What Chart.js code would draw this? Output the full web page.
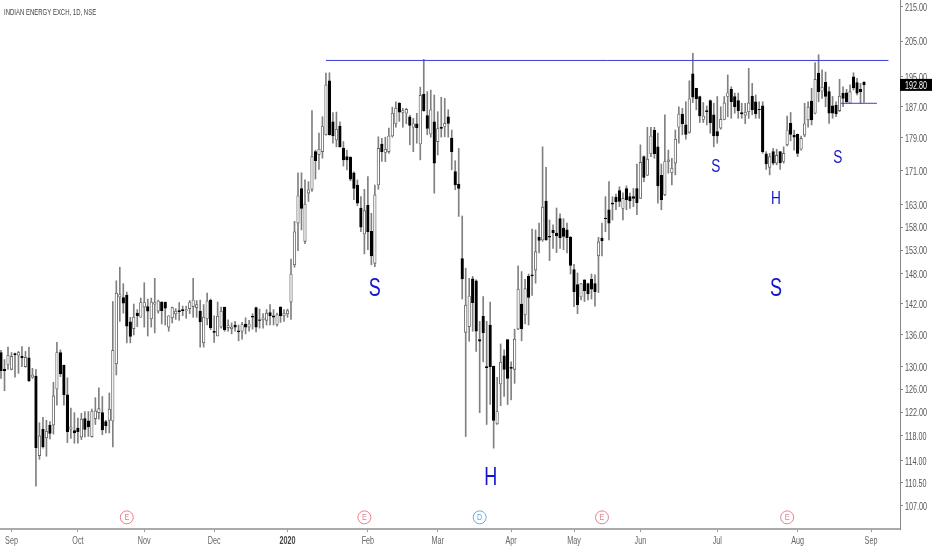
<!DOCTYPE html>
<html>
<head>
<meta charset="utf-8">
<style>
html,body{margin:0;padding:0;background:#fff;}
canvas{display:block;filter:blur(0.3px);}
</style>
<script src="https://cdn.jsdelivr.net/npm/chart.js@4"></script>
</head>
<body>
<canvas id="chart" width="932" height="550"></canvas>
<script>
const title="INDIAN ENERGY EXCH, 1D, NSE";
const opens=[
132.6,129.5,130.4,129.5,132.4,132.1,131.9,130.0,131.6,128.1,
128.3,114.8,119.1,117.7,119.8,119.8,126.0,132.6,130.3,125.0,
119.1,118.9,119.3,117.8,120.9,120.5,117.9,120.9,121.9,121.9,
120.4,120.6,120.5,130.5,143.3,143.2,143.7,138.4,137.1,140.1,
139.3,141.3,141.4,139.0,141.9,140.5,142.3,142.3,137.4,139.2,
140.0,140.6,140.8,140.6,141.0,141.4,141.2,140.5,134.4,139.0,
142.7,136.6,135.7,137.4,141.3,137.3,137.1,137.8,136.7,136.6,
138.0,137.4,139.5,141.2,138.8,138.8,138.7,140.2,139.6,137.9,
141.3,139.6,140.0,142.3,149.9,158.9,166.8,154.9,165.7,166.6,
175.6,174.9,175.6,179.8,193.9,183.1,178.5,182.0,176.5,174.4,
174.2,170.5,167.6,162.3,156.5,162.9,157.1,150.2,167.6,177.5,
175.4,175.6,179.5,182.6,187.9,185.5,185.3,184.4,181.7,182.6,
177.5,190.3,184.7,180.0,183.1,178.1,181.7,181.9,184.4,179.0,
170.8,167.8,151.2,136.4,137.5,147.0,146.6,135.0,139.5,130.0,
137.8,130.1,120.0,126.9,132.0,135.0,129.9,129.5,137.0,141.9,
139.8,147.5,147.8,148.8,155.8,155.2,163.9,156.0,157.3,156.7,
159.9,157.8,157.4,155.8,148.9,145.8,143.3,146.8,146.0,146.9,
146.0,151.8,155.6,160.0,161.9,163.4,164.8,166.3,162.2,166.8,
164.9,164.9,166.8,164.5,174.4,169.9,175.1,180.9,176.8,169.9,
165.3,173.2,170.5,172.8,181.7,185.1,182.3,180.4,195.8,191.9,
189.7,183.7,186.0,188.6,184.9,180.6,181.5,183.7,189.7,191.6,
189.7,188.6,185.5,184.8,185.7,189.8,188.3,186.3,187.2,175.1,
171.8,175.6,172.8,175.6,173.2,177.3,182.7,179.7,179.9,176.2,
179.7,183.6,188.5,185.3,196.0,191.1,193.5,191.0,187.2,187.4,
186.0,190.6,190.7,187.9,195.0,193.4,191.6,193.5];
const closes=[
129.3,129.3,132.1,131.9,132.2,132.6,131.6,131.7,127.5,128.5,
116.1,118.0,116.2,118.8,118.4,124.8,132.6,128.7,125.0,118.7,
119.5,118.5,118.7,120.8,119.1,119.5,122.1,122.2,122.6,119.0,
119.7,122.5,133.0,144.1,143.8,142.1,137.6,135.6,139.3,139.6,
142.2,142.2,140.5,142.3,142.2,142.5,140.6,141.1,139.6,141.2,
140.5,140.4,140.6,140.8,142.2,142.7,141.8,138.4,139.3,142.5,
137.3,136.4,139.5,140.5,136.9,137.7,137.4,137.4,136.5,137.9,
137.4,138.0,139.3,137.4,138.7,139.2,140.1,139.6,139.3,139.8,
139.6,140.1,140.6,148.0,157.0,165.1,162.2,163.2,166.5,174.4,
173.4,176.2,181.9,192.8,179.8,179.5,181.2,176.8,173.6,173.6,
169.0,166.8,163.4,158.0,161.7,157.0,151.8,165.3,176.4,175.6,
176.2,179.5,185.3,186.6,185.6,186.0,186.3,182.2,182.6,181.6,
190.0,186.0,181.4,186.2,172.8,181.4,181.4,182.7,182.7,175.6,
167.6,166.8,147.0,141.7,143.5,142.2,136.6,134.7,136.3,129.8,
130.0,120.6,122.1,130.8,129.5,127.9,129.7,135.1,144.9,137.1,
145.0,143.2,147.6,152.7,155.1,162.5,155.2,155.8,156.8,156.1,
155.7,156.0,155.7,149.8,144.4,141.8,146.0,144.6,144.0,144.9,
144.4,154.8,155.0,159.9,158.9,163.2,163.7,163.8,164.5,164.2,
164.0,164.5,163.5,173.0,169.4,173.8,179.5,175.1,167.4,164.2,
173.2,173.6,171.6,178.7,185.1,182.6,179.9,189.1,189.5,189.1,
184.6,184.6,185.7,182.9,179.5,179.5,183.7,188.0,190.7,188.3,
187.0,186.0,185.1,185.6,188.0,186.2,185.1,186.2,175.6,172.6,
174.4,172.8,174.7,172.9,175.2,181.0,179.9,179.2,175.2,178.9,
182.6,186.9,183.6,194.3,191.0,192.2,189.7,185.3,185.3,185.1,
189.8,189.2,188.3,191.0,192.0,190.6,191.0,192.8];
const highs=[
133.0,131.3,133.6,132.6,132.5,132.8,133.7,132.8,133.6,129.7,
129.5,120.2,121.1,120.6,120.4,127.2,134.5,133.1,130.3,128.0,
122.7,121.9,121.0,121.8,122.1,122.1,122.5,124.5,126.2,124.7,
120.6,125.3,142.4,146.6,149.4,146.0,144.3,139.3,141.9,140.8,
143.1,146.2,142.9,143.1,147.1,142.7,142.4,142.3,139.6,141.3,
141.0,142.2,141.5,141.5,142.6,147.1,142.6,142.7,141.8,144.1,
142.9,139.6,142.3,141.3,141.3,138.8,138.2,138.5,137.8,138.3,
139.2,138.7,140.0,141.3,140.9,140.0,140.8,141.8,140.8,140.1,
141.4,140.8,140.9,151.1,159.3,170.5,170.5,168.8,168.4,186.0,
176.0,180.2,184.4,196.0,196.1,185.5,185.6,183.1,178.1,176.0,
174.4,170.7,168.8,164.9,166.6,169.6,161.1,167.6,179.3,178.9,
179.2,181.5,186.9,188.3,188.1,186.6,186.6,184.8,184.0,185.3,
192.2,199.8,191.0,191.4,190.1,185.7,189.5,189.2,186.2,181.0,
173.4,176.4,160.5,149.2,147.1,147.5,146.8,138.5,143.4,138.5,
142.3,130.1,128.1,134.2,133.1,135.0,130.9,137.0,149.7,148.5,
146.9,148.0,157.6,157.4,158.9,176.8,171.8,159.6,158.5,162.3,
161.0,159.9,158.9,156.0,150.0,148.2,146.0,146.8,146.1,148.0,
147.8,155.8,158.9,164.9,168.4,164.9,165.5,167.2,165.8,167.4,
165.7,166.8,172.6,177.3,174.6,181.7,181.7,181.7,180.2,172.6,
184.9,176.0,174.0,181.0,187.0,186.6,188.3,193.9,201.5,191.9,
189.8,188.1,187.2,188.8,187.9,189.7,187.0,189.7,195.5,192.3,
190.6,190.6,187.9,187.9,197.3,193.2,190.1,188.3,188.3,175.6,
175.2,176.4,176.2,175.6,176.8,184.6,185.5,181.0,180.0,179.5,
187.9,188.3,191.9,198.9,201.1,196.9,196.3,192.3,189.7,188.3,
194.3,192.3,191.6,192.8,196.1,194.6,193.2,193.7];
const lows=[
127.9,125.7,129.5,129.4,128.1,128.8,130.0,129.9,127.3,127.9,
110.0,114.2,116.0,114.7,117.5,118.3,123.2,128.2,123.2,116.9,
117.6,116.8,116.8,117.4,117.8,117.9,117.8,119.9,120.8,118.2,
118.5,118.5,116.2,128.5,138.5,140.1,134.4,134.4,135.9,137.5,
139.3,137.4,135.7,137.4,136.3,140.1,138.0,137.8,136.6,138.2,
138.9,138.7,139.6,139.1,140.0,139.3,139.3,133.6,133.6,137.8,
136.9,134.5,135.7,137.2,136.6,136.6,136.1,136.6,134.8,135.1,
136.1,136.6,137.0,136.5,137.2,137.2,137.8,137.8,137.8,137.6,
138.3,138.5,139.3,138.9,149.4,152.9,157.4,154.4,163.8,166.1,
169.0,171.3,174.0,179.7,179.7,177.7,176.8,176.7,172.1,171.2,
168.6,164.2,162.8,157.0,152.2,153.1,149.9,149.5,166.6,173.2,
173.2,175.2,179.2,181.7,183.2,181.7,182.6,177.3,175.6,177.7,
173.6,185.8,179.8,179.2,165.7,174.8,179.2,179.3,179.2,171.2,
166.5,160.4,142.9,117.9,134.7,136.6,132.8,121.9,130.9,119.9,
123.3,116.0,119.9,123.1,124.7,123.3,124.1,127.0,136.9,134.8,
138.0,137.8,143.6,146.1,152.4,154.9,155.1,150.8,153.4,152.5,
153.4,153.1,152.4,148.0,141.4,140.0,142.7,142.4,142.7,142.9,
141.5,144.2,151.8,157.0,155.2,159.6,161.9,162.6,159.6,161.9,
162.2,162.6,160.8,164.5,168.4,169.8,174.4,174.0,163.4,161.9,
165.1,170.4,167.6,170.0,177.7,179.8,178.7,180.2,188.1,186.2,
182.9,182.9,182.3,180.2,176.8,177.7,181.2,183.6,184.4,184.0,
185.3,184.0,184.0,182.6,184.0,184.9,184.0,184.0,175.2,171.3,
170.0,172.4,172.4,171.3,172.8,177.0,178.3,176.0,174.4,176.0,
179.3,181.7,182.3,185.1,188.3,189.2,187.0,182.7,184.0,184.4,
185.7,187.0,187.9,187.9,191.4,190.1,187.9,188.1];

const priceTicks=[215,205,195,187,179,171,163,158,153,148,142,136,130,126,122,118,114,110.5,107];
const monthTicks=[3,22,41,61,82,105,125,146,164,183,205,228,249];
const monthLabels=["Sep","Oct","Nov","Dec","2020","Feb","Mar","Apr","May","Jun","Jul","Aug","Sep"];
// hand drawn lines on the chart
const resistanceX=[93,254];
const resistanceY=[199.5,199.5];
const supportX=[240.4,250.7];
const supportY=[187.9,187.9];
// head and shoulders letters
const noteLabels=["S","H","S","S","H","S"];
const noteX=[107,140.2,221.8,204.6,221.8,239.5];
const noteY=[144.9,111.3,144.9,171.9,164.5,174];
const noteBig=[true,true,true,false,false,false];
// earnings and dividend markers
const eventLabels=["E","E","D","E","E"];
const eventX=[36,104,137,172,225];
const eventY=[105.3,105.3,105.3,105.3,105.3];

const face='"Liberation Sans",sans-serif';
const blue="#1414c8";
const lineBlue="#3c3cd8";
const evColor=l=>l==="D"?"#5aaee6":"#e5808f";

const wicks=highs.map((h,i)=>({x:i,y:[lows[i],h]}));
const bodies=opens.map((o,i)=>({x:i,y:[Math.min(o,closes[i]),Math.max(o,closes[i])]}));
const bodyFill=opens.map((o,i)=>closes[i]<o?"#000":"#fff");
const bodyEdge=opens.map((o,i)=>closes[i]<o?"#000":"#666");

// the screenshot is squeezed sideways, so all its text runs narrow
function squeezed(c,text,x,y,font,color,align,squeeze){
    c.save();
    c.translate(x,y);
    c.scale(squeeze,1);
    c.font=font;
    c.fillStyle=color;
    c.textAlign=align;
    c.textBaseline="middle";
    c.fillText(text,0,0);
    c.restore();
}

const labelsPlugin={
    id:"labels",
    afterDraw(chart){
        const c=chart.ctx;
        const sx=chart.scales.x, sy=chart.scales.y;
        sy.ticks.forEach(t=>{
            squeezed(c,t.label,sy.left+5,sy.getPixelForValue(t.value)+1.5,"10px "+face,"#555","left",0.72);
        });
        sx.ticks.forEach(t=>{
            const bold=t.label==="2020";
            squeezed(c,t.label,sx.getPixelForValue(t.value),541.5,(bold?"bold ":"")+"10px "+face,bold?"#444":"#666","center",0.72);
        });
        squeezed(c,title,4,12.5,"9.5px "+face,"#444","left",0.63);
        noteLabels.forEach((l,i)=>{
            squeezed(c,l,sx.getPixelForValue(noteX[i]),sy.getPixelForValue(noteY[i]),(noteBig[i]?"25px ":"19px ")+face,blue,"center",0.72);
        });
        eventLabels.forEach((l,i)=>{
            squeezed(c,l,sx.getPixelForValue(eventX[i]),sy.getPixelForValue(eventY[i])+0.5,"9px "+face,evColor(l),"center",0.8);
        });
        // last price tag
        const last=closes[closes.length-1];
        const py=sy.getPixelForValue(last);
        c.fillStyle="#000";
        c.fillRect(sx.right,py-6,32,12);
        squeezed(c,last.toFixed(2),sx.right+5,py+1,"10px "+face,"#fff","left",0.72);
    }
};

new Chart(document.getElementById("chart"),{
    type:"bar",
    data:{datasets:[
        {data:wicks,barThickness:1,grouped:false,backgroundColor:"#808080",order:5},
        {data:bodies,barThickness:2.6,grouped:false,backgroundColor:bodyFill,borderColor:bodyEdge,borderWidth:0.9,borderSkipped:false,order:4},
        {type:"line",data:resistanceX.map((x,i)=>({x:x,y:resistanceY[i]})),borderColor:lineBlue,borderWidth:1,pointRadius:0,order:3},
        {type:"line",data:supportX.map((x,i)=>({x:x,y:supportY[i]})),borderColor:lineBlue,borderWidth:1,pointRadius:0,order:3},
        {type:"line",showLine:false,data:eventX.map((x,i)=>({x:x,y:eventY[i]})),pointRadius:6.5,pointBorderWidth:1,
         pointBackgroundColor:"#fff",pointBorderColor:eventLabels.map(evColor),order:2}
    ]},
    options:{
        responsive:false,
        animation:false,
        devicePixelRatio:1,
        layout:{padding:0,autoPadding:false},
        plugins:{legend:{display:false},tooltip:{enabled:false}},
        scales:{
            x:{
                type:"linear",
                offset:false,
                min:-0.29,
                max:257.3,
                afterBuildTicks(s){s.ticks=monthTicks.map(v=>({value:v}));},
                afterFit(s){s.height=21;},
                grid:{offset:false,drawOnChartArea:false,tickLength:3,color:"#999"},
                border:{color:"#aaa",width:2},
                ticks:{display:false,autoSkip:false,maxRotation:0,callback:v=>monthLabels[monthTicks.indexOf(v)]}
            },
            y:{
                type:"logarithmic",
                position:"right",
                min:103.6,
                max:217.1,
                afterBuildTicks(s){s.ticks=priceTicks.map(v=>({value:v}));},
                afterFit(s){s.width=32;},
                grid:{drawOnChartArea:false,tickLength:3,color:"#888"},
                border:{color:"#888",width:1},
                ticks:{display:false,autoSkip:false,callback:v=>v.toFixed(2)}
            }
        }
    },
    plugins:[labelsPlugin]
});
</script>
</body>
</html>
